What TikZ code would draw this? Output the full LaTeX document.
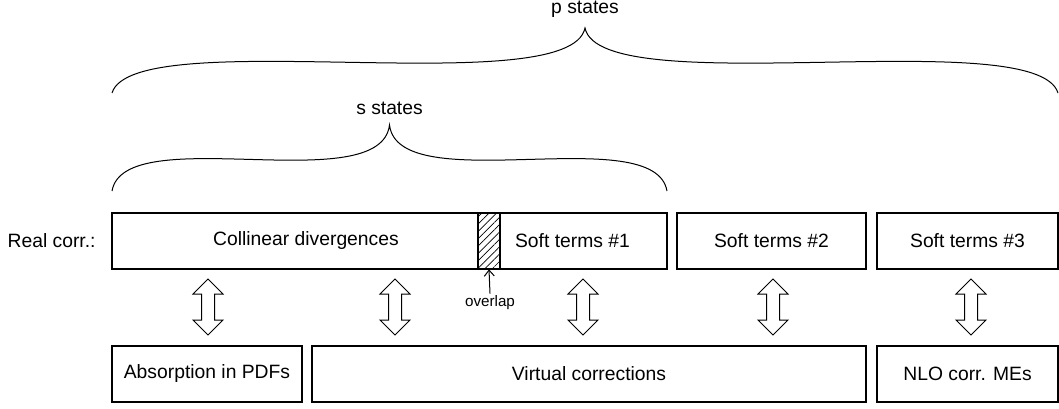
\documentclass[tikz,border=0pt]{standalone}
\usepackage{fontspec}
\setmainfont{Liberation Sans}
\usetikzlibrary{shapes.arrows,patterns.meta,arrows.meta}

\begin{document}
\begin{tikzpicture}[x=0.5pt, y=-0.5pt, font=\fontsize{9.65}{11.5}\selectfont,
    termbox/.style={draw, line width=0.6pt, minimum height=28pt, inner sep=0pt},
    hatchbox/.style={termbox, pattern={Lines[angle=45,distance=2.6pt,line width=0.35pt]}},
    swap/.style={double arrow, draw, line width=0.5pt, rotate=90, minimum height=28pt,
        inner xsep=0pt, inner ysep=3pt, double arrow head extend=4.25pt},
    brace/.style={line width=0.5pt}]
    \useasboundingbox (0,0) rectangle (1059,408);

    % real corrections
    \node[anchor=east, inner sep=0pt] (real) at (96,241) {Real corr.:};
    \node[termbox, minimum width=194pt] (coll) at (306,241) {Collinear divergences};
    \node[termbox, minimum width=94.5pt] (soft1) at (572.5,241) {Soft terms \#1};
    \node[hatchbox, minimum width=11pt] (hatch) at (489,241) {};
    \node[termbox, minimum width=94.5pt] (soft2) at (771.5,241) {Soft terms \#2};
    \node[termbox, minimum width=90.5pt] (soft3) at (967.5,241) {Soft terms \#3};

    % what they cancel against
    \node[termbox, minimum width=95pt] (pdf) at (207,374) {Absorption in PDFs};
    \node[termbox, minimum width=277pt] (virt) at (589,374) {Virtual corrections};
    \node[termbox, minimum width=90.5pt] (nlo) at (967.5,374) {NLO corr. MEs};

    \node[swap] (a1) at (208,307) {};
    \node[swap] (a2) at (395,307) {};
    \node[swap] (a3) at (583,307) {};
    \node[swap] (a4) at (773,307) {};
    \node[swap] (a5) at (971,307) {};

    \node[font=\fontsize{7.6}{9}\selectfont, inner sep=1pt] (ovl) at (490,303) {overlap};
    \draw[line width=0.5pt, -{Straight Barb[length=3pt,width=5pt]}] (ovl.north) -- (hatch.south);

    % braces
    \coordinate (sl) at (112,191);
    \coordinate (st) at (389.5,125);
    \coordinate (sr) at (667,191);
    \draw[brace] (sl) .. controls (124.5,119.7) and (380.3,200.2) .. (st)
        .. controls (398.7,200.2) and (654.5,119.7) .. (sr);
    \node (slab) at (389.5,108) {s states};

    \coordinate (pl) at (112,93);
    \coordinate (pt) at (585,28);
    \coordinate (pr) at (1058,93);
    \draw[brace] (pl) .. controls (133.3,22.7) and (569.4,103.2) .. (pt)
        .. controls (600.6,103.2) and (1036.7,22.7) .. (pr);
    \node (plab) at (585,9) {p states};
\end{tikzpicture}
\end{document}
